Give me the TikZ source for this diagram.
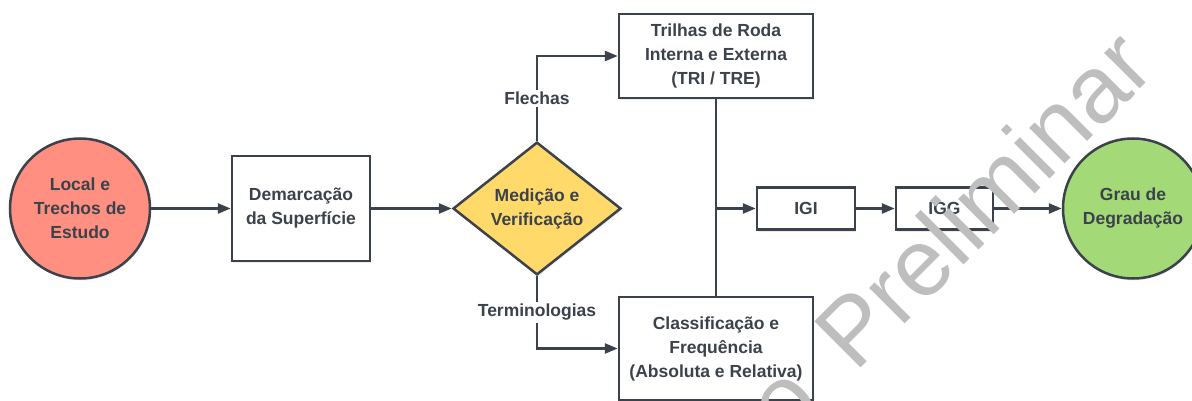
\documentclass[tikz,border=0pt]{standalone}
\usepackage{fontspec}
\setmainfont{Liberation Sans}
\usetikzlibrary{calc,positioning,shapes.geometric,arrows.meta,shadows}
\definecolor{dark_gray}{RGB}{60,66,76}
\definecolor{light_red}{HTML}{FF8F80}
\definecolor{light_yellow}{HTML}{FFDA6B}
\definecolor{light_green}{HTML}{A3D977}
\definecolor{mark_gray}{RGB}{190,190,190}

\begin{document}
\begin{tikzpicture}[x=1pt,y=-1pt,>={Triangle[length=13pt,width=10pt]},
    every node/.style={font=\fontsize{17.5}{24}\selectfont\bfseries,text=dark_gray,align=center},
    box/.style={rectangle,draw=dark_gray,line width=2.5pt,fill=white,inner sep=0pt,
        drop shadow={shadow xshift=1pt,shadow yshift=-2pt,opacity=0.15}},
    disc/.style={circle,draw=dark_gray,line width=2.5pt,minimum size=140pt,inner sep=0pt,
        drop shadow={shadow xshift=1pt,shadow yshift=-2pt,opacity=0.15}},
    link/.style={->,line width=2.5pt,draw=dark_gray},
    tag/.style={fill=white,inner sep=2pt}]
              \clip (0,0) rectangle (1192,401);
              \node[disc,fill=light_red] (local) at (80,208.5) {Local e\\Trechos de\\Estudo};
              \node[box,minimum width=138pt,minimum height=105pt] (demarc) at (301,208.5) {Demarcação\\da Superfície};
              \node[diamond,draw=dark_gray,line width=2.5pt,fill=light_yellow,minimum width=168pt,minimum height=131pt,inner sep=0pt,
                  drop shadow={shadow xshift=1pt,shadow yshift=-2pt,opacity=0.15}] (medic) at (537,208.5) {Medição e\\Verificação};
              \node[box,minimum width=194pt,minimum height=84pt] (trilhas) at (716,56) {Trilhas de Roda\\Interna e Externa\\(TRI / TRE)};
              \node[box,minimum width=194pt,minimum height=103pt] (classif) at (716,348.5) {Classificação e\\Frequência\\(Absoluta e Relativa)};
              \node[box,minimum width=98pt,minimum height=42pt] (igi) at (806,208.5) {IGI};
              \node[box,minimum width=97pt,minimum height=42pt] (igg) at (944.5,208.5) {IGG};
              \node[disc,fill=light_green] (grau) at (1133,208.5) {Grau de\\Degradação};
              \draw[link] (local) -- (demarc);
              \draw[link] (demarc) -- (medic);
              \draw[link] (medic.north) |- node[tag,pos=0.25] {Flechas} (trilhas.west);
              \draw[link] (medic.south) |- node[tag,pos=0.25] {Terminologias} (classif.west);
              \draw[line width=2.5pt,dark_gray] (trilhas.south) -- (classif.north);
              \coordinate (junc) at (trilhas.south |- igi.west);
              \draw[link] (junc) -- (igi);
              \draw[link] (igi) -- (igg);
              \draw[link] (igg) -- (grau);
              % watermark
              \node[rotate=45,anchor=base east,inner sep=0pt,font=\fontsize{95}{95}\selectfont,text=mark_gray] (mark) at (1158,71) {ão\hspace{0.2em} Preliminar};
          \end{tikzpicture}
\end{document}
